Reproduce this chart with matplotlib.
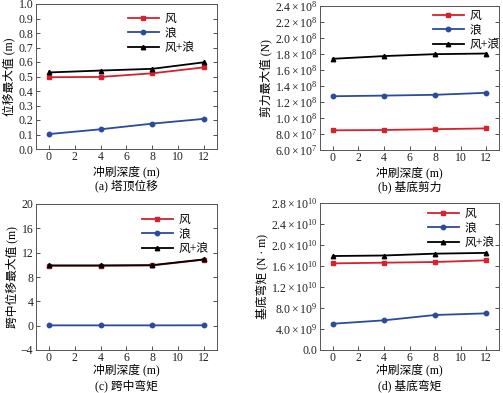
import matplotlib
matplotlib.use("Agg")
import matplotlib.pyplot as plt
from matplotlib.ticker import FixedLocator, FixedFormatter

plt.rcParams['font.family'] = ['Liberation Serif', 'Noto Sans CJK SC']
plt.rcParams['mathtext.fontset'] = 'custom'
plt.rcParams['mathtext.rm'] = 'Liberation Serif'
plt.rcParams['mathtext.it'] = 'Liberation Serif:italic'

depth = [0, 4, 8, 12]
series_names = ['风', '浪', '风+浪']

# (a) tower top displacement
a_wind = [0.495, 0.497, 0.522, 0.563]
a_wave = [0.103, 0.136, 0.175, 0.208]
a_both = [0.528, 0.541, 0.553, 0.598]

# (b) base shear
b_wind = [8.46e7, 8.5e7, 8.6e7, 8.7e7]
b_wave = [1.272e8, 1.28e8, 1.29e8, 1.315e8]
b_both = [1.74e8, 1.774e8, 1.798e8, 1.806e8]

# (c) mid-span
c_wind = [9.85, 9.85, 9.9, 10.85]
c_wave = [0.05, 0.05, 0.05, 0.06]
c_both = [9.9, 9.9, 9.95, 10.9]

# (d) base moment
d_wind = [1.65e10, 1.663e10, 1.676e10, 1.708e10]
d_wave = [5.0e9, 5.65e9, 6.67e9, 6.98e9]
d_both = [1.79e10, 1.80e10, 1.835e10, 1.85e10]

b_ticks = [6.0e7, 8.0e7, 1.0e8, 1.2e8, 1.4e8, 1.6e8, 1.8e8, 2.0e8, 2.2e8, 2.4e8]
b_labels = [r'$\mathregular{6.0\times10^{7}}$', r'$\mathregular{8.0\times10^{7}}$',
            r'$\mathregular{1.0\times10^{8}}$', r'$\mathregular{1.2\times10^{8}}$',
            r'$\mathregular{1.4\times10^{8}}$', r'$\mathregular{1.6\times10^{8}}$',
            r'$\mathregular{1.8\times10^{8}}$', r'$\mathregular{2.0\times10^{8}}$',
            r'$\mathregular{2.2\times10^{8}}$', r'$\mathregular{2.4\times10^{8}}$']
d_ticks = [0, 4e9, 8e9, 1.2e10, 1.6e10, 2.0e10, 2.4e10, 2.8e10]
d_labels = ['0.0', r'$\mathregular{4.0\times10^{9}}$', r'$\mathregular{8.0\times10^{9}}$',
            r'$\mathregular{1.2\times10^{10}}$', r'$\mathregular{1.6\times10^{10}}$',
            r'$\mathregular{2.0\times10^{10}}$', r'$\mathregular{2.4\times10^{10}}$',
            r'$\mathregular{2.8\times10^{10}}$']

colors = ['#d8202e', '#2b4b9b', '#000000']
markers = ['s', 'o', '^']

fig = plt.figure(figsize=(5.03, 3.93), dpi=100)
W, H = 503, 393

boxes = [(36, 217, 4, 149), (320, 499, 6, 150), (36, 217, 204, 350), (320, 499, 203, 350)]
# legend upper-left anchor (pixels)
leg_pos = [(128, 13), (433, 10), (142, 214), (428, 208)]
xlabel_y = [172, 173, 370, 370]
caption_y = [186, 187, 386, 386]

def make_ax(l, r, t, b):
    return fig.add_axes([l / W, 1 - b / H, (r - l) / W, (b - t) / H])

axes = [make_ax(*bx) for bx in boxes]
data = [(a_wind, a_wave, a_both), (b_wind, b_wave, b_both),
        (c_wind, c_wave, c_both), (d_wind, d_wave, d_both)]
ylabels = ['位移最大值 (m)', '剪力最大值 (N)', '跨中位移最大值 (m)', '基底弯矩 (N · m)']
captions = ['(a) 塔顶位移', '(b) 基底剪力', '(c) 跨中弯矩', '(d) 基底弯矩']

for i, ax in enumerate(axes):
    l, r, t, b = boxes[i]
    for vals, name, c, m in zip(data[i], series_names, colors, markers):
        ax.plot(depth, vals, color=c, marker=m, markersize=3.2, linewidth=1.3, label=name)
    ax.set_xlim(-1, 13)
    ax.set_xticks([0, 2, 4, 6, 8, 10, 12])
    ax.tick_params(direction='in', labelsize=8.5, length=3, width=0.6,
                   top=False, right=True, pad=2, colors='#333333', labelcolor='#222222')
    ax.tick_params(axis='x', pad=1.5)
    for s in ax.spines.values():
        s.set_color('#555555')
        s.set_linewidth(0.7)
    cx = (l + r) / 2 / W
    fig.text(cx, 1 - xlabel_y[i] / H, '冲刷深度 (m)', ha='center', va='center', fontsize=8.5)
    fig.text(cx, 1 - caption_y[i] / H, captions[i], ha='center', va='center', fontsize=8.5)
    ax.set_ylabel(ylabels[i], fontsize=8.5, labelpad=2)
    lx, ly = leg_pos[i]
    ax.legend(loc='upper left', bbox_to_anchor=((lx - l) / (r - l), (b - ly) / (b - t)),
              frameon=False, fontsize=8.5, handlelength=2.6, handletextpad=0.5,
              labelspacing=0.22, borderaxespad=0.0, borderpad=0.0)

axes[0].set_ylim(0, 1.0)
axes[0].set_yticks([0.0, 0.1, 0.2, 0.3, 0.4, 0.5, 0.6, 0.7, 0.8, 0.9, 1.0])
axes[0].yaxis.set_major_formatter(FixedFormatter(['0.0', '0.1', '0.2', '0.3', '0.4', '0.5', '0.6', '0.7', '0.8', '0.9', '1.0']))

axes[1].set_ylim(6.0e7, 2.4e8)
axes[1].yaxis.set_major_locator(FixedLocator(b_ticks))
axes[1].yaxis.set_major_formatter(FixedFormatter(b_labels))

axes[2].set_ylim(-4, 20)
axes[2].set_yticks([-4, 0, 4, 8, 12, 16, 20])

axes[3].set_ylim(0, 2.8e10)
axes[3].yaxis.set_major_locator(FixedLocator(d_ticks))
axes[3].yaxis.set_major_formatter(FixedFormatter(d_labels))

fig.savefig('out.png', dpi=100)
